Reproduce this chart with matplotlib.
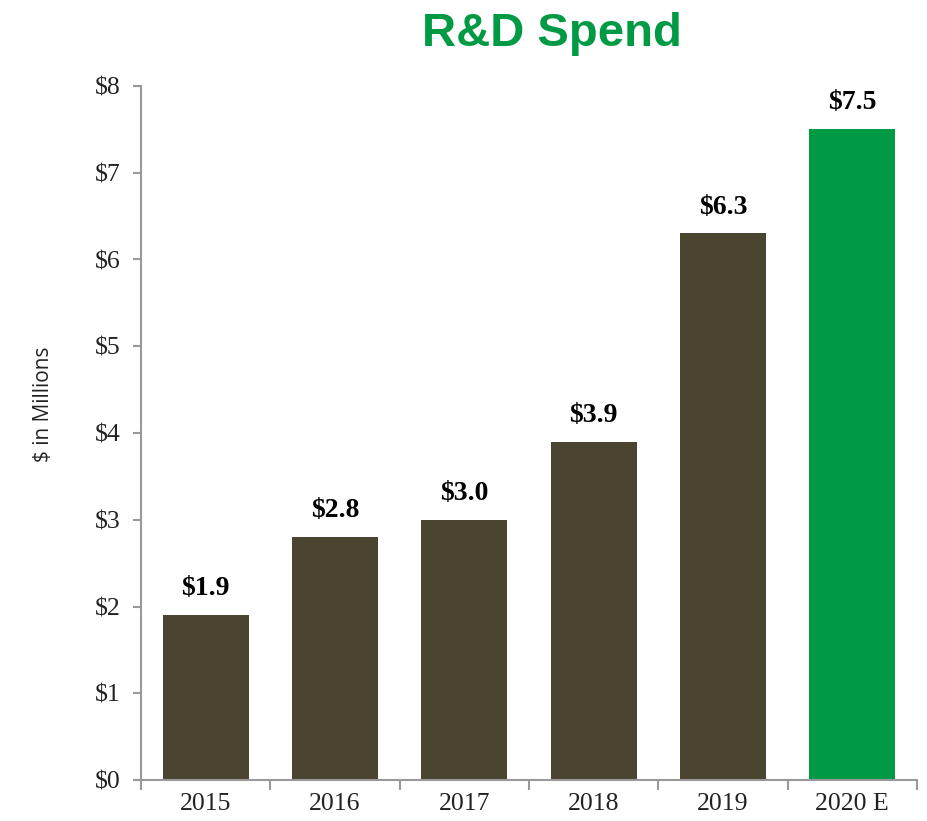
import matplotlib
matplotlib.use("Agg")
import matplotlib.pyplot as plt

categories = ["2015", "2016", "2017", "2018", "2019", "2020 E"]
values = [1.9, 2.8, 3.0, 3.9, 6.3, 7.5]
value_labels = ["$1.9", "$2.8", "$3.0", "$3.9", "$6.3", "$7.5"]
colors = ["#4A4530"] * 5 + ["#009A44"]
yticks = [0, 1, 2, 3, 4, 5, 6, 7, 8]
ytick_labels = ["$0", "$1", "$2", "$3", "$4", "$5", "$6", "$7", "$8"]

fig = plt.figure(figsize=(9.27, 8.21), dpi=100)
ax = fig.add_axes([141/927, 41/821, (917-141)/927, (780-86)/821])

x = list(range(len(categories)))
bars = ax.bar(x, values, width=0.665, color=colors)

for xi, v, lab in zip(x, values, value_labels):
    ax.annotate(lab, (xi, v), xytext=(0, 10), textcoords="offset points",
                ha="center", va="bottom", fontsize=20, fontweight="bold",
                family="Liberation Serif", color="#000000")

ax.set_xlim(-0.5, len(categories) - 0.5)
ax.set_ylim(0, 8)
ax.set_yticks(yticks)
ax.set_yticklabels(ytick_labels, family="Liberation Serif", fontsize=18.5, color="#222222")
ax.set_xticks(x)
ax.set_xticklabels(categories, family="Liberation Serif", fontsize=18.5, color="#222222")
ax.tick_params(axis="x", length=0, pad=9)
ax.set_xticks([i - 0.5 for i in range(len(categories) + 1)], minor=True)
ax.tick_params(axis="x", which="minor", length=7, color="#999999", width=1.5)
ax.tick_params(axis="y", length=6, color="#999999", width=1.5, pad=9)

for s in ["top", "right"]:
    ax.spines[s].set_visible(False)
for s in ["left", "bottom"]:
    ax.spines[s].set_color("#999999")
    ax.spines[s].set_linewidth(1.5)

ax.set_ylabel("$ in Millions", family="Open Sans", fontsize=15, color="#222222")
ax.yaxis.set_label_coords((54 - 141) / (917 - 141), (780 - 404) / (780 - 86))

fig.text(552/927, 1 - 34/821, "R&D Spend", ha="center", va="center",
         fontsize=34, fontweight="bold", family="Liberation Sans", color="#009A44")

fig.savefig("out.png", dpi=100)
